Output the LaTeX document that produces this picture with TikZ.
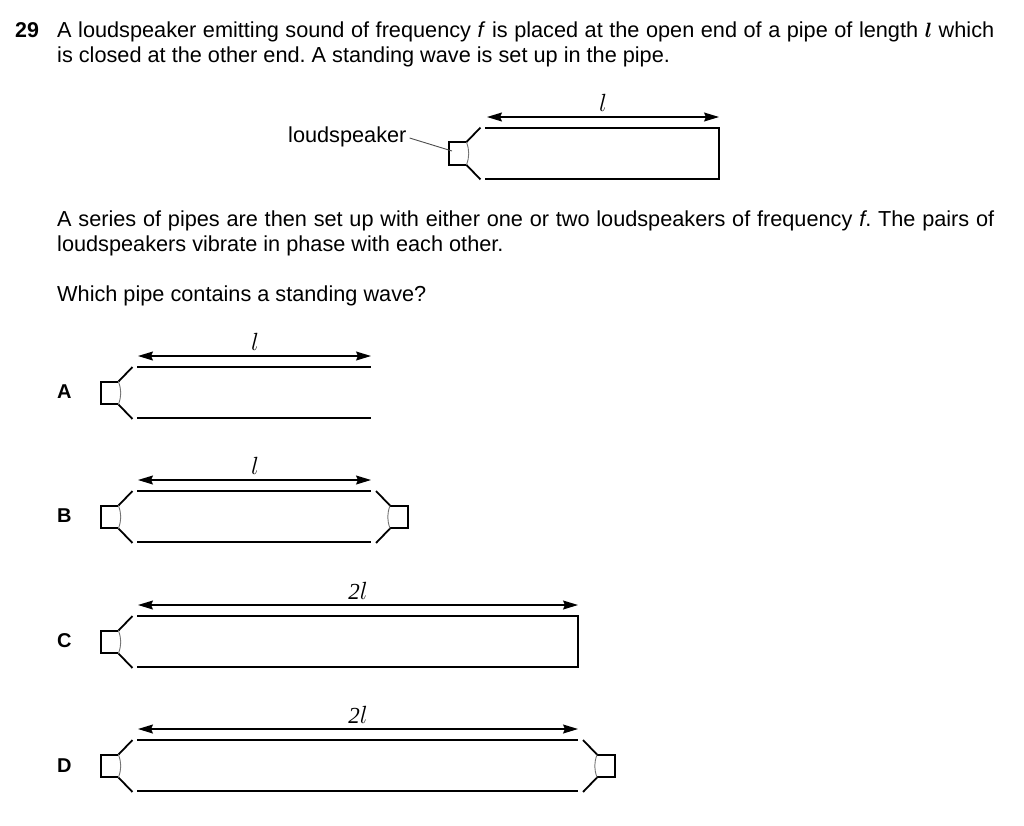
\documentclass[tikz,border=0pt]{standalone}
\usepackage{fontspec}
\setmainfont{Liberation Sans}
\usepackage{amsmath}
\usetikzlibrary{arrows.meta,positioning}
\tikzset{
    textline/.style = {anchor = base west, inner sep = 0pt, font = \fontsize{21.7}{25}\selectfont\frenchspacing},
    optionlabel/.style = {anchor = base west, inner sep = 0pt, font = \fontsize{20}{24}\selectfont\bfseries},
    lengthlabel/.style = {inner sep = 0pt, font = \fontsize{23}{25}\selectfont},
    wall/.style = {line width = 1.5pt},
    speakerbox/.style = {minimum width = 17.5pt, minimum height = 22.5pt, inner sep = 0pt},
    boxline/.style = {line width = 2pt},
    cone/.style = {line width = 1.8pt},
    membrane/.style = {draw = black!55, line width = 0.9pt},
    lengtharrow/.style = {line width = 1.2pt, {Stealth[length = 15pt, width = 9pt, inset = 2pt]}-{Stealth[length = 15pt, width = 9pt, inset = 2pt]}},
    leader/.style = {draw = black!70, line width = 0.9pt}
}
\newcommand{\lsym}{\ensuremath{\boldsymbol{l}}}
\newcommand{\twosym}{\textit{\fontspec{Liberation Serif}2}}
% speaker at the left end: name, x of box centre, y of box centre
\newcommand{\speakerleft}[3]{
    \node[speakerbox] (#1) at (#2,#3) {};
    \draw[boxline] (#1.north east) -- (#1.north west) -- (#1.south west) -- (#1.south east);
    \draw[cone] (#1.north east) -- ++(14,-14.5);
    \draw[cone] (#1.south east) -- ++(14,14.5);
    \draw[membrane] (#1.north east) to[bend left = 20] (#1.south east);
}
% speaker at the right end
\newcommand{\speakerright}[3]{
    \node[speakerbox] (#1) at (#2,#3) {};
    \draw[boxline] (#1.north west) -- (#1.north east) -- (#1.south east) -- (#1.south west);
    \draw[cone] (#1.north west) -- ++(-14,-14.5);
    \draw[cone] (#1.south west) -- ++(-14,14.5);
    \draw[membrane] (#1.north west) to[bend right = 20] (#1.south west);
}
\begin{document}
\begin{tikzpicture}[x = 1pt, y = -1pt]
    \useasboundingbox (0,0) rectangle (1024,825);

    \node[textline, font = \fontsize{21.4}{25}\selectfont\bfseries] (num) at (15,37) {29};
    \node[textline] (stemA) at (57,37) {\makebox[937pt][s]{A loudspeaker emitting sound of frequency \textit{f} is placed at the open end of a pipe of length \lsym{} which}};
    \node[textline] (stemB) at (57,62) {is closed at the other end. A standing wave is set up in the pipe.};
    \node[textline] (seriesA) at (57,226) {\makebox[937pt][s]{A series of pipes are then set up with either one or two loudspeakers of frequency \textit{f}. The pairs of}};
    \node[textline] (seriesB) at (57,251) {loudspeakers vibrate in phase with each other.};
    \node[textline] (question) at (57,301) {Which pipe contains a standing wave?};

    % the pipe of the stem
    \speakerleft{spk}{457.5}{153.5}
    \node[textline] (spklabel) at (288,142) {loudspeaker};
    \coordinate (spkend) at (452,151);
    \draw[leader] (spklabel.base east) ++(3,-4) -- (spkend);
    \coordinate (ptl) at (485,128);
    \coordinate (ptr) at (719,128);
    \coordinate (pbl) at (485,179);
    \coordinate (pbr) at (719,179);
    \draw[wall] (ptl) -- (ptr) -- (pbr) -- (pbl);
    \coordinate (al) at (487,117);
    \coordinate (ar) at (719,117);
    \draw[lengtharrow] (al) -- (ar);
    \node[lengthlabel] (lab) at (603,103) {$l$};

    % option A
    \node[optionlabel] (optA) at (57,398) {A};
    \speakerleft{spkA}{109.5}{393}
    \coordinate (Atl) at (137,367);
    \coordinate (Atr) at (371,367);
    \coordinate (Abl) at (137,418);
    \coordinate (Abr) at (371,418);
    \draw[wall] (Atl) -- (Atr);
    \draw[wall] (Abl) -- (Abr);
    \coordinate (Aal) at (138,356);
    \coordinate (Aar) at (371,356);
    \draw[lengtharrow] (Aal) -- (Aar);
    \node[lengthlabel] (labA) at (255,342) {$l$};

    % option B
    \node[optionlabel] (optB) at (57,522) {B};
    \speakerleft{spkB}{109.5}{517}
    \speakerright{spkBr}{399}{517}
    \coordinate (Btl) at (137,491);
    \coordinate (Btr) at (371,491);
    \coordinate (Bbl) at (137,542);
    \coordinate (Bbr) at (371,542);
    \draw[wall] (Btl) -- (Btr);
    \draw[wall] (Bbl) -- (Bbr);
    \coordinate (Bal) at (138,480);
    \coordinate (Bar) at (371,480);
    \draw[lengtharrow] (Bal) -- (Bar);
    \node[lengthlabel] (labB) at (255,466) {$l$};

    % option C
    \node[optionlabel] (optC) at (57,647) {C};
    \speakerleft{spkC}{109.5}{642}
    \coordinate (Ctl) at (137,616);
    \coordinate (Ctr) at (578,616);
    \coordinate (Cbl) at (137,667);
    \coordinate (Cbr) at (578,667);
    \draw[wall] (Ctl) -- (Ctr) -- (Cbr) -- (Cbl);
    \coordinate (Cal) at (138,605);
    \coordinate (Car) at (578,605);
    \draw[lengtharrow] (Cal) -- (Car);
    \node[lengthlabel] (labC) at (358,591) {\twosym$l$};

    % option D
    \node[optionlabel] (optD) at (57,772) {D};
    \speakerleft{spkD}{109.5}{766}
    \speakerright{spkDr}{606}{766}
    \coordinate (Dtl) at (137,740);
    \coordinate (Dtr) at (578,740);
    \coordinate (Dbl) at (137,791);
    \coordinate (Dbr) at (578,791);
    \draw[wall] (Dtl) -- (Dtr);
    \draw[wall] (Dbl) -- (Dbr);
    \coordinate (Dal) at (138,729);
    \coordinate (Dar) at (578,729);
    \draw[lengtharrow] (Dal) -- (Dar);
    \node[lengthlabel] (labD) at (358,715) {\twosym$l$};
\end{tikzpicture}
\end{document}
